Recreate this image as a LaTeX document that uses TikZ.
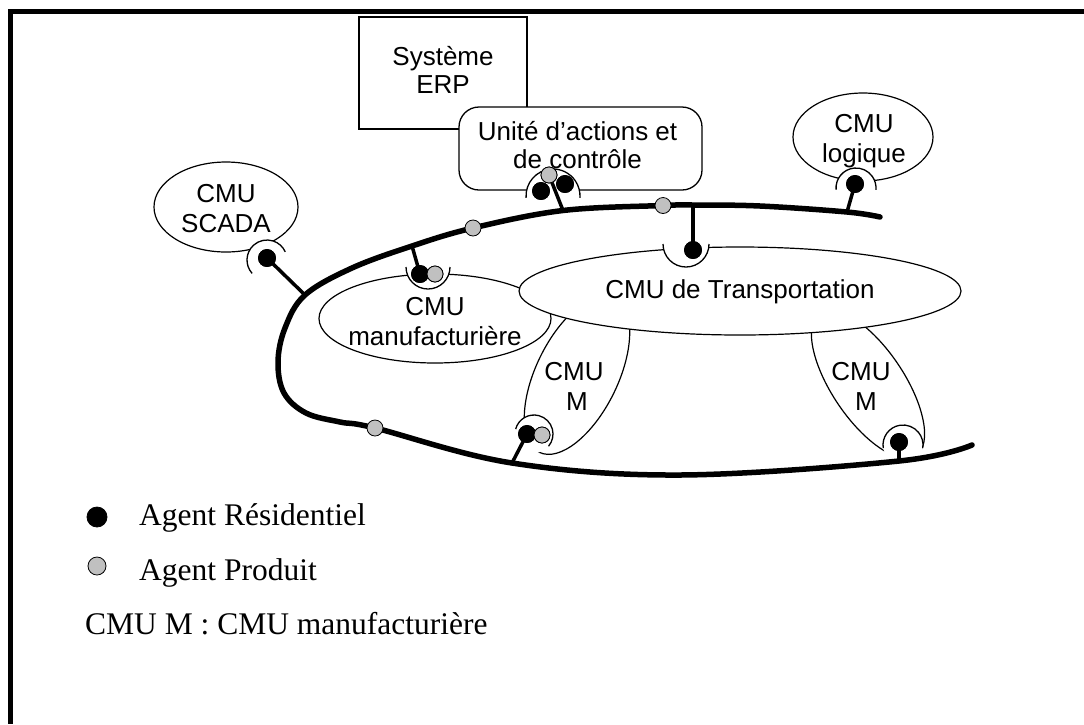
\documentclass[tikz,border=0pt]{standalone}
\usepackage{fontspec}
\setmainfont{Liberation Serif}
\newfontfamily\diagsans{Liberation Sans}
\usetikzlibrary{shapes.geometric}
\definecolor{agentgray}{RGB}{192,192,192}

\begin{document}
\begin{tikzpicture}[x=1pt,y=-1pt,
  frame/.style={line width=5pt},
  box/.style={draw, line width=1.3pt, fill=white, inner sep=0pt},
  cmu/.style={ellipse, draw, line width=1.2pt, fill=white, inner sep=0pt},
  lbl/.style={font=\diagsans\fontsize{26}{29}\selectfont, anchor=base, inner sep=0pt},
  legtxt/.style={font=\fontsize{31.5}{36}\selectfont, anchor=base west, inner sep=0pt},
  bus/.style={line width=5.5pt, line cap=round},
  stem/.style={line width=3.5pt},
  resident/.style={circle, fill=black, draw=black, line width=0.8pt, minimum size=17pt, inner sep=0pt},
  product/.style={circle, fill=agentgray, draw=black, line width=0.8pt, minimum size=16pt, inner sep=0pt},
  socketarc/.style={line width=1.3pt},
]
\useasboundingbox (0,0) rectangle (1084,724);

% outer frame (top and left edges)
\draw[frame] (1084,11.5) -- (10.5,11.5) -- (10.5,724);

% boxes
\node[box, minimum width=168pt, minimum height=112pt] (erp) at (443,73) {};
\node[box, rounded corners=20pt, minimum width=243pt, minimum height=83pt] (uac) at (580.5,148.5) {};

% CMU ellipses
\node[cmu, minimum width=144pt, minimum height=90pt] (scada) at (226,207) {};
\node[cmu, minimum width=140pt, minimum height=88pt] (logique) at (863,137) {};
\node[cmu, minimum width=232pt, minimum height=89pt] (manuf) at (435,318.5) {};
\node[cmu, minimum width=172pt, minimum height=82pt, rotate=64] (mleft) at (577,375) {};
\node[cmu, minimum width=172pt, minimum height=72pt, rotate=-56] (mright) at (868,384) {};
\node[cmu, minimum width=442pt, minimum height=88pt] (transp) at (740,291) {};

% socket centres
\coordinate (s-scada) at (267,260);
\coordinate (s-uac) at (553,196);
\coordinate (s-log) at (856,188);
\coordinate (s-tr) at (686,244);
\coordinate (s-man) at (428,267);
\coordinate (s-ml) at (534,434);
\coordinate (s-mr) at (903,445);

% white background of the sockets
\fill[white] (s-scada) circle [radius=20];
\fill[white] (s-uac) circle [radius=27];
\fill[white] (s-log) circle [radius=20];
\fill[white] (s-tr) circle [radius=23];
\fill[white] (s-man) circle [radius=22];
\fill[white] (s-ml) circle [radius=19];
\fill[white] (s-mr) circle [radius=20];

% points on the communication bus
\coordinate (b1) at (880,217);
\coordinate (b-log) at (847,212);
\coordinate (b2) at (760,206);
\coordinate (b-tr) at (693,205);
\coordinate (g2) at (663,205.5);
\coordinate (b-uac) at (563,210.5);
\coordinate (g1) at (473,228);
\coordinate (b-man) at (412,246);
\coordinate (b3) at (352,268);
\coordinate (b-scada) at (305,295);
\coordinate (b4) at (285,328);
\coordinate (b5) at (278,362);
\coordinate (b6) at (284,393);
\coordinate (b7) at (306,413);
\coordinate (b8) at (340,422);
\coordinate (g3) at (375,428);
\coordinate (b-ml) at (512,463);
\coordinate (b9) at (680,475);
\coordinate (b-mr) at (899,461);
\coordinate (b10) at (972,445);

\draw[bus] plot[smooth, tension=0.6] coordinates {(b1) (b-log) (b2) (b-tr) (g2) (b-uac) (g1) (b-man) (b3) (b-scada) (b4) (b5) (b6) (b7) (b8) (g3) (b-ml) (b9) (b-mr) (b10)};

% agents
\node[resident] (r-scada) at (267,258) {};
\node[product] (p-uac) at (549,175) {};
\node[resident] (r-uac1) at (541,191) {};
\node[resident] (r-uac2) at (565,184) {};
\node[resident] (r-log) at (855,184) {};
\node[resident] (r-tr) at (693,250) {};
\node[resident] (r-man) at (420,274) {};
\node[product] (p-man) at (435,274) {};
\node[resident] (r-ml) at (527,434) {};
\node[product] (p-ml) at (542,435) {};
\node[resident] (r-mr) at (899,442) {};

% stems from agents to the bus
\draw[stem] (r-scada.center) -- (b-scada);
\draw[stem] (p-uac.center) -- (b-uac);
\draw[stem] (r-log.center) -- (b-log);
\draw[stem] (r-tr.center) -- (b-tr);
\draw[stem] (r-man.center) -- (b-man);
\draw[stem] (r-ml.center) -- (b-ml);
\draw[stem] (r-mr.center) -- (b-mr);

% socket arcs
\draw[socketarc] (s-scada) ++(138:20) arc[start angle=138, end angle=336, radius=20];
\draw[socketarc] (s-uac) ++(176:27) arc[start angle=176, end angle=364, radius=27];
\draw[socketarc] (s-log) ++(175:20) arc[start angle=175, end angle=365, radius=20];
\draw[socketarc] (s-tr) ++(0:23) arc[start angle=0, end angle=180, radius=23];
\draw[socketarc] (s-man) ++(0:22) arc[start angle=0, end angle=180, radius=22];
\draw[socketarc] (s-ml) ++(195:19) arc[start angle=195, end angle=400, radius=19];
\draw[socketarc] (s-mr) ++(171:20) arc[start angle=171, end angle=369, radius=20];

% agents drawn above stems
\node[product] at (p-uac) {};
\node[resident] at (r-uac1) {};
\node[resident] at (r-uac2) {};
\node[resident] at (r-scada) {};
\node[resident] at (r-log) {};
\node[resident] at (r-tr) {};
\node[resident] at (r-man) {};
\node[product] at (p-man) {};
\node[resident] at (r-ml) {};
\node[product] at (p-ml) {};
\node[resident] at (r-mr) {};

% product agents travelling on the bus
\node[product] (p-g1) at (g1) {};
\node[product] (p-g2) at (g2) {};
\node[product] (p-g3) at (g3) {};

% labels
\node[lbl] (t-erp1) at (443,65) {Système};
\node[lbl] (t-erp2) at (443,93) {ERP};
\node[lbl] (t-uac1) at (577.5,140) {Unité d’actions et};
\node[lbl] (t-uac2) at (577.5,168) {de contrôle};
\node[lbl] (t-sc1) at (226,202) {CMU};
\node[lbl] (t-sc2) at (226,232) {SCADA};
\node[lbl] (t-lo1) at (864,132) {CMU};
\node[lbl] (t-lo2) at (864,162) {logique};
\node[lbl] (t-tr) at (740,298) {CMU de Transportation};
\node[lbl] (t-ma1) at (435,315) {CMU};
\node[lbl] (t-ma2) at (435,345) {manufacturière};
\node[lbl] (t-ml1) at (574,380) {CMU};
\node[lbl] (t-ml2) at (577,410) {M};
\node[lbl] (t-mr1) at (861,380) {CMU};
\node[lbl] (t-mr2) at (866,410) {M};

% legend
\node[resident, minimum size=20pt] (leg-r) at (97,517) {};
\node[product, minimum size=18pt] (leg-p) at (97,566) {};
\node[legtxt] (leg-rt) at (139,525) {Agent Résidentiel};
\node[legtxt] (leg-pt) at (139,580) {Agent Produit};
\node[legtxt] (leg-m) at (85,634) {CMU M : CMU manufacturière};
\end{tikzpicture}
\end{document}
